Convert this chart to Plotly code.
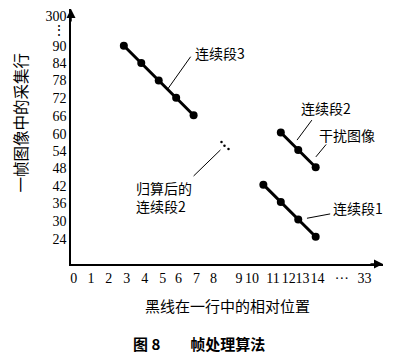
import plotly.graph_objects as go

# ---- data ----
seg3_x = [3, 4, 5, 6, 7]
seg3_y = [90, 84, 78, 72, 66]
seg2_x = [12, 13, 14]
seg2_y = [60, 54, 48]
seg1_x = [11, 12, 13, 14]
seg1_y = [42, 36, 30, 24]
dots_x = [8.6, 8.77, 9.0]
dots_y = [56.7, 55.45, 54.3]

xtick_labels = ["0", "1", "2", "3", "4", "5", "6", "7", "8", "9", "10", "11", "12", "13", "14", "···", "33"]
xtick_pos = [0.13, 1.11, 2.14, 3.17, 4.2, 5.23, 6.14, 7.17, 8.14, 9.6, 10.35, 11.55, 12.45, 13.25, 14.1, 15.5, 16.8]
ytick_labels = ["24", "30", "36", "42", "48", "54", "60", "66", "72", "78", "84", "90", "⋮", "300"]
ytick_pos = [23.2, 29.4, 35.6, 41.6, 47.6, 53.6, 59.6, 65.8, 71.8, 78, 84, 90, 95.4, 100.4]

CJK = "Noto Sans CJK SC"
SERIF = "Liberation Serif"

fig = go.Figure()
line_style = dict(color="black", width=3)
mk = dict(color="black", size=8)
for xs, ys in [(seg3_x, seg3_y), (seg2_x, seg2_y), (seg1_x, seg1_y)]:
    fig.add_trace(go.Scatter(x=xs, y=ys, mode="lines+markers", line=line_style,
                             marker=mk, showlegend=False, hoverinfo="skip"))
fig.add_trace(go.Scatter(x=dots_x, y=dots_y, mode="markers",
                         marker=dict(color="black", size=2.5), showlegend=False, hoverinfo="skip"))

# leader lines
leaders = [
    (5.50, 74.9, 6.83, 86.2),
    (7.00, 45.0, 8.54, 54.0),
    (12.93, 57.4, 13.78, 64.3),
    (14.01, 51.6, 14.60, 55.9),
    (13.50, 30.4, 14.83, 31.9),
]
for x0, y0, x1, y1 in leaders:
    fig.add_shape(type="line", x0=x0, y0=y0, x1=x1, y1=y1, xref="x", yref="y",
                  line=dict(color="black", width=1))

labels = [
    ("连续段3", 6.95, 87.5, "left"),
    ("连续段2", 13.05, 68.4, "left"),
    ("干扰图像", 14.1, 59.1, "left"),
    ("连续段1", 14.9, 33.8, "left"),
    ("归算后的<br>连续段2", 5.3, 37.6, "center"),
]
for t, x, y, anc in labels:
    fig.add_annotation(x=x, y=y, xref="x", yref="y", text=t, showarrow=False,
                       xanchor=anc, yanchor="middle", align="left",
                       font=dict(family=CJK, size=14, color="black"))

# axis arrows
fig.add_annotation(x=1.0, y=0, xref="paper", yref="paper", ax=-14, ay=0,
                   axref="pixel", ayref="pixel", text="", showarrow=True,
                   arrowhead=2, arrowsize=1.2, arrowwidth=1.5, arrowcolor="black")
fig.add_annotation(x=0, y=1.0, xref="paper", yref="paper", ax=0, ay=14,
                   axref="pixel", ayref="pixel", text="", showarrow=True,
                   arrowhead=2, arrowsize=1.2, arrowwidth=1.5, arrowcolor="black")

# titles
fig.add_annotation(x=0.503, y=-0.164, xref="paper", yref="paper", text="黑线在一行中的相对位置",
                   showarrow=False, xanchor="center", yanchor="middle",
                   font=dict(family=CJK, size=15, color="black"))
fig.add_annotation(x=-0.163, y=0.555, xref="paper", yref="paper", text="一帧图像中的采集行",
                   showarrow=False, xanchor="center", yanchor="middle", textangle=-90,
                   font=dict(family=CJK, size=15.5, color="black"))
fig.add_annotation(x=0.41, y=-0.3125, xref="paper", yref="paper", text="<b>图 8　　帧处理算法</b>",
                   showarrow=False, xanchor="center", yanchor="middle",
                   font=dict(family=CJK, size=15, color="black"))

# page body has an 8px margin: shrink figure so it fits the 400x358 window
fig.update_layout(
    width=392, height=350,
    margin=dict(l=63, r=17, t=1, b=94, autoexpand=False),
    paper_bgcolor="white", plot_bgcolor="white",
    xaxis=dict(range=[-0.03, 17.86], showgrid=False, zeroline=False, automargin=False,
               showline=True, linecolor="black", linewidth=1.5, tickangle=0,
               tickmode="array", tickvals=xtick_pos, ticktext=xtick_labels,
               ticks="", tickfont=dict(family=SERIF, size=14, color="black")),
    yaxis=dict(range=[14.6, 102.68], showgrid=False, zeroline=False, automargin=False,
               showline=True, linecolor="black", linewidth=1.5, ticklabeloverflow="allow",
               tickmode="array", tickvals=ytick_pos, ticktext=ytick_labels,
               ticks="", tickfont=dict(family=SERIF, size=14, color="black")),
)

fig.write_html("out.html")
